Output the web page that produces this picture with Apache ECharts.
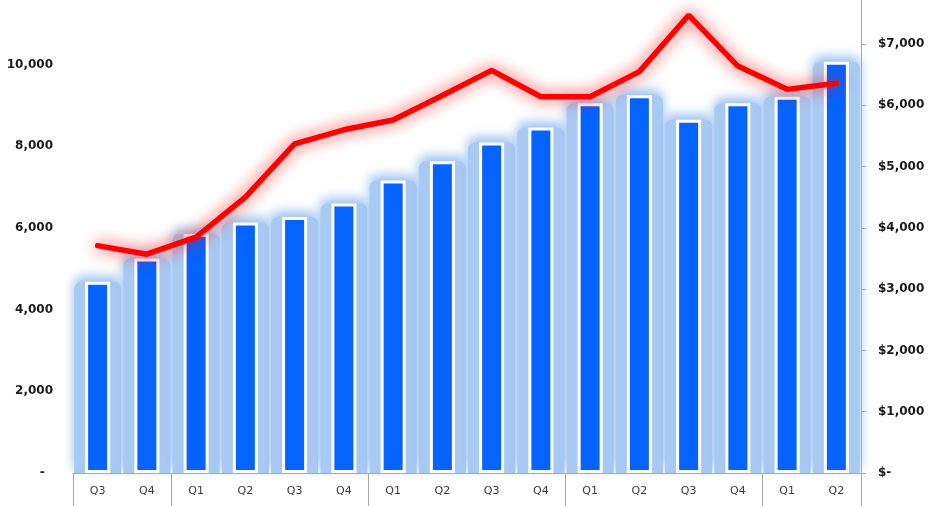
<!DOCTYPE html>
<html>
<head>
<meta charset="utf-8">
<script src="https://cdn.jsdelivr.net/npm/echarts@6/dist/echarts.min.js"></script>
<style>
html,body{margin:0;padding:0;background:#fff;}
#chart{width:931px;height:506px;}
</style>
</head>
<body>
<div id="chart"></div>
<script>
var categories = ['Q3','Q4','Q1','Q2','Q3','Q4','Q1','Q2','Q3','Q4','Q1','Q2','Q3','Q4','Q1','Q2'];
var units = [4680, 5250, 5860, 6130, 6270, 6600, 7160, 7630, 8090, 8460, 9050, 9250, 8650, 9050, 9210, 10070];
var price = [3710, 3570, 3850, 4500, 5370, 5600, 5760, 6160, 6570, 6140, 6140, 6550, 7470, 6640, 6260, 6360];
var leftTicks = {min: 0, max: 11580, interval: 2000};
var rightTicks = {min: 0, max: 7718, interval: 1000};

var chart = echarts.init(document.getElementById('chart'), null, {renderer: 'canvas'});
function fmt(v){ return v.toLocaleString('en-US'); }
var gray = '#a6a6a6';
var lightBlue = '#a8c9f2';
chart.setOption({
  animation: false,
  backgroundColor: '#ffffff',
  grid: {left: 73, right: 70, top: 0, bottom: 33, containLabel: false},
  xAxis: [{
    type: 'category',
    data: categories,
    boundaryGap: true,
    axisLine: {show: true, lineStyle: {color: gray, width: 1}},
    axisTick: {
      show: true, length: 33, inside: false,
      lineStyle: {color: gray, width: 1},
      interval: function (i, v) { return i === 0 || v === 'Q1'; }
    },
    axisLabel: {interval: 0, margin: 13, fontFamily: 'DejaVu Sans', fontSize: 11, color: '#3a3a3a'},
    splitLine: {show: false}
  }, {
    type: 'category',
    data: categories,
    boundaryGap: true,
    show: false
  }],
  yAxis: [{
    type: 'value',
    min: leftTicks.min, max: leftTicks.max, interval: leftTicks.interval,
    position: 'left',
    axisLine: {show: false},
    axisTick: {show: false},
    splitLine: {show: false},
    axisLabel: {
      showMaxLabel: false,
      margin: 20,
      fontFamily: 'DejaVu Sans', fontWeight: 'bold', fontSize: 12, color: '#1a1a1a',
      formatter: function (v) { return v === 0 ? '-  ' : fmt(v); }
    }
  }, {
    type: 'value',
    min: rightTicks.min, max: rightTicks.max, interval: rightTicks.interval,
    position: 'right',
    axisLine: {show: true, lineStyle: {color: gray, width: 1}},
    axisTick: {show: true, length: 5, inside: false, lineStyle: {color: gray}},
    splitLine: {show: false},
    axisLabel: {
      showMaxLabel: false,
      margin: 17,
      fontFamily: 'DejaVu Sans', fontWeight: 'bold', fontSize: 12, color: '#1a1a1a',
      formatter: function (v) { return v === 0 ? '$-' : '$' + fmt(v); }
    }
  }],
  series: [{
    name: 'glow',
    type: 'bar',
    data: units,
    xAxisIndex: 1,
    yAxisIndex: 0,
    barWidth: 47,
    silent: true,
    z: 1,
    itemStyle: {
      color: lightBlue,
      borderRadius: [7, 7, 0, 0],
      shadowBlur: 12,
      shadowColor: 'rgba(150,190,240,1)',
      shadowOffsetY: -5
    }
  }, {
    name: 'units',
    type: 'bar',
    data: units,
    xAxisIndex: 0,
    yAxisIndex: 0,
    barWidth: 25,
    z: 2,
    itemStyle: {
      color: '#0563ff',
      borderColor: '#ffffff',
      borderWidth: 3
    }
  }, {
    name: 'price',
    type: 'line',
    data: price,
    xAxisIndex: 0,
    yAxisIndex: 1,
    z: 5,
    symbol: 'none',
    smooth: false,
    lineStyle: {
      color: '#ff0000',
      width: 5.5,
      cap: 'round',
      shadowBlur: 16,
      shadowColor: 'rgba(255,0,0,0.9)'
    }
  }]
});
</script>
</body>
</html>
